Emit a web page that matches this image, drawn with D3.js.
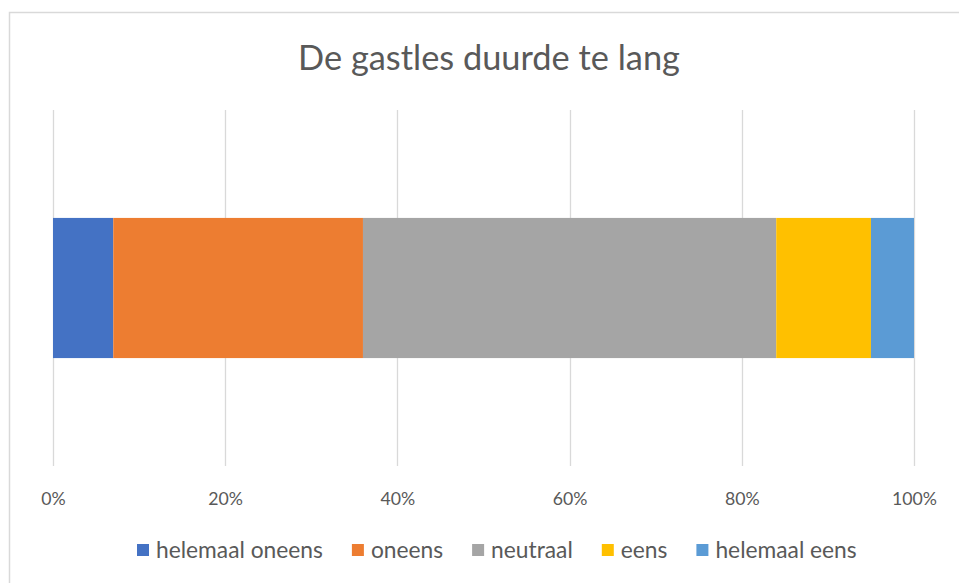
<!DOCTYPE html>
<html>
<head>
<meta charset="utf-8">
<script src="https://cdn.jsdelivr.net/npm/d3@7"></script>
<style>
  html, body { margin: 0; padding: 0; background: #ffffff; }
  svg { display: block; }
  text { font-family: Lato, "Open Sans", sans-serif; fill: #595959; }
</style>
</head>
<body>
<svg id="chart" width="959" height="583"></svg>
<script>
// ---- data ----
const title = "De gastles duurde te lang";
const categories = ["De gastles duurde te lang"];
const seriesNames = ["helemaal oneens", "oneens", "neutraal", "eens", "helemaal eens"];
const seriesValues = [7, 29, 48, 11, 5];   // percent of responses
const seriesColors = ["#4472C4", "#ED7D31", "#A5A5A5", "#FFC000", "#5B9BD5"];
const tickValues = [0, 0.2, 0.4, 0.6, 0.8, 1.0];

// ---- layout ----
const W = 959, H = 583;
const plot = { left: 53, right: 914, top: 110, bottom: 466 };

const svg = d3.select("#chart");

// chart border
svg.append("rect")
  .attr("x", 9.5).attr("y", 12.5)
  .attr("width", W + 20).attr("height", H + 20)
  .attr("fill", "#ffffff").attr("stroke", "#D9D9D9").attr("stroke-width", 1.5);

// helper to fit font size to a target width
function fitSize(str, targetW, base) {
  const t = svg.append("text").attr("font-size", base).text(str);
  const w = t.node().getComputedTextLength();
  t.remove();
  return base * targetW / w;
}

// title
const titleSize = fitSize(title, 382, 28);
svg.append("text")
  .attr("x", 489).attr("y", 70)
  .attr("text-anchor", "middle")
  .attr("font-size", titleSize)
  .text(title);

// scales
const total = d3.sum(seriesValues);
const x = d3.scaleLinear().domain([0, 1]).range([plot.left, plot.right]);
const y = d3.scaleBand().domain(categories).range([plot.top, plot.bottom])
  .paddingInner(0).paddingOuter(0.77);

// gridlines
svg.append("g").selectAll("line")
  .data(tickValues).join("line")
  .attr("x1", d => Math.round(x(d)) + 0.5).attr("x2", d => Math.round(x(d)) + 0.5)
  .attr("y1", plot.top).attr("y2", plot.bottom)
  .attr("stroke", "#D9D9D9").attr("stroke-width", 1.3);

// stacked data
const row = {};
seriesNames.forEach((n, i) => row[n] = seriesValues[i] / total);
row.cat = categories[0];
const stacked = d3.stack().keys(seriesNames)([row]);

svg.append("g").selectAll("g")
  .data(stacked).join("g")
  .attr("fill", (d, i) => seriesColors[i])
  .selectAll("rect")
  .data(d => d).join("rect")
  .attr("x", d => x(d[0]))
  .attr("width", d => x(d[1]) - x(d[0]))
  .attr("y", d => y(d.data.cat))
  .attr("height", y.bandwidth());

// x axis labels
const tickSize = fitSize("100%", 45, 18);
const xAxis = d3.axisBottom(x).tickValues(tickValues)
  .tickFormat(d3.format(".0%")).tickSize(0).tickPadding(0);
const gx = svg.append("g").attr("transform", `translate(0, ${plot.bottom})`).call(xAxis);
gx.select(".domain").remove();
gx.selectAll("text")
  .attr("y", 39).attr("dy", null)
  .attr("font-size", tickSize)
  .attr("font-family", "Lato, 'Open Sans', sans-serif")
  .attr("fill", "#595959");

// legend
const legSize = fitSize("helemaal oneens", 167, 18);
const sq = 12, gapText = 7, gapItem = 29;
const widths = seriesNames.map(n => {
  const t = svg.append("text").attr("font-size", legSize).text(n);
  const w = t.node().getComputedTextLength(); t.remove(); return w;
});
const itemW = widths.map(w => sq + gapText + w);
let cx = 137;
const legend = svg.append("g");
seriesNames.forEach((n, i) => {
  const g = legend.append("g").attr("transform", `translate(${cx}, 550)`);
  g.append("rect").attr("x", 0).attr("y", -6).attr("width", sq).attr("height", sq)
    .attr("fill", seriesColors[i]);
  g.append("text").attr("x", sq + gapText).attr("y", 0).attr("dy", "0.35em")
    .attr("font-size", legSize).text(n);
  cx += itemW[i] + gapItem;
});
</script>
</body>
</html>
